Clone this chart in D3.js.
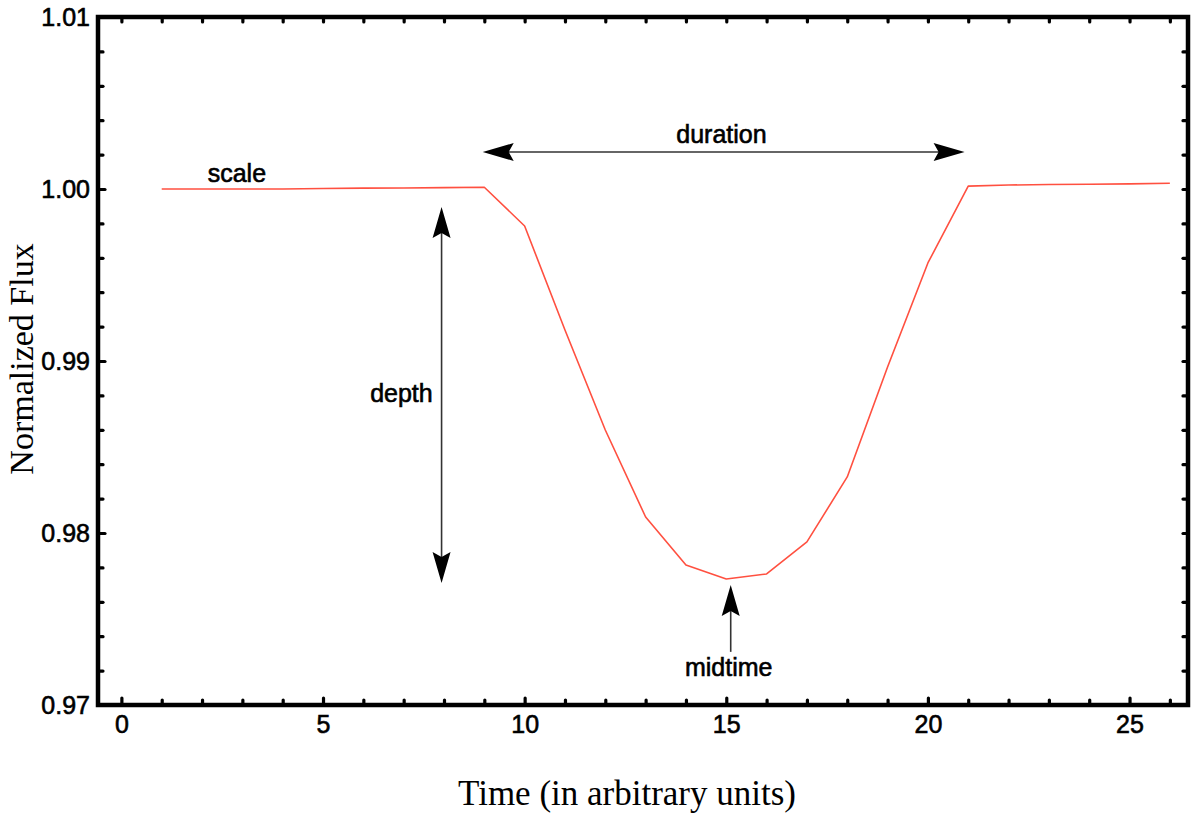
<!DOCTYPE html>
<html><head><meta charset="utf-8">
<script src="https://cdn.jsdelivr.net/npm/d3@7/dist/d3.min.js"></script>
<style>html,body{margin:0;padding:0;background:#fff;} svg{display:block;}</style>
</head><body>
<script>
// ---- data ----
const times = [1,2,3,4,5,6,7,8,9,10,11,12,13,14,15,16,17,18,19,20,21,22,23,24,25,26];
const flux  = [1.00000,1.00000,1.00000,1.00000,1.00003,1.00005,1.00006,1.00008,1.00010,
               0.99785,0.99180,0.98599,0.98093,0.97814,0.97733,0.97762,0.97948,0.98326,
               0.98965,0.99570,1.00017,1.00023,1.00026,1.00028,1.00030,1.00033];
const xTickLabels = ["0","5","10","15","20","25"];
const yTickLabels = ["0.97","0.98","0.99","1.00","1.01"];
const xTitle = "Time (in arbitrary units)";
const yTitle = "Normalized Flux";

// ---- layout ----
const W = 1194, H = 817;
const L = 98, R = 1188, T = 17, B = 705;
const svg = d3.select("body").append("svg").attr("width", W).attr("height", H);

const x = d3.scaleLinear().domain([-0.58, 26.45]).range([L, R]);
const y = d3.scaleLinear().domain([0.97, 1.01]).range([B, T]);

const sans = "'Liberation Sans', Arial, Helvetica, sans-serif";
const serif = "'Liberation Serif', 'Times New Roman', serif";

const xMajor = xTickLabels.map(Number);
const yMajor = yTickLabels.map(Number);
const xMinor = d3.range(0, 27).filter(v => !xMajor.includes(v));
const yMinor = d3.range(0, 21).map(i => +(0.97 + i * 0.002).toFixed(3)).filter(v => !yMajor.some(m => Math.abs(m - v) < 1e-9));

function styleAxis(g) {
  g.select(".domain").remove();
  g.selectAll(".tick line").attr("stroke", "#000").attr("stroke-width", 3.2).attr("stroke-linecap", "round");
  g.selectAll(".tick text").attr("fill", "#000").attr("stroke", "#000").attr("stroke-width", 0.6)
    .style("font-family", sans).style("font-size", "25px");
}

// bottom axis
svg.append("g").attr("transform", `translate(0,${B})`)
  .call(d3.axisBottom(x).tickValues(xMinor).tickSizeInner(-5).tickSizeOuter(0).tickFormat(""))
  .call(styleAxis);
svg.append("g").attr("transform", `translate(0,${B})`)
  .call(d3.axisBottom(x).tickValues(xMajor).tickSizeInner(-7).tickSizeOuter(0).tickPadding(10)
        .tickFormat((d, i) => xTickLabels[i]))
  .call(styleAxis);
// top axis (ticks only)
svg.append("g").attr("transform", `translate(0,${T})`)
  .call(d3.axisTop(x).tickValues(d3.range(0, 27)).tickSizeInner(-5).tickSizeOuter(0).tickFormat(""))
  .call(styleAxis);
// left axis
svg.append("g").attr("transform", `translate(${L},0)`)
  .call(d3.axisLeft(y).tickValues(yMinor).tickSizeInner(-5).tickSizeOuter(0).tickFormat(""))
  .call(styleAxis);
svg.append("g").attr("transform", `translate(${L},0)`)
  .call(d3.axisLeft(y).tickValues(yMajor).tickSizeInner(-7).tickSizeOuter(0).tickPadding(8)
        .tickFormat((d, i) => yTickLabels[i]))
  .call(styleAxis);
// right axis (ticks only)
svg.append("g").attr("transform", `translate(${R},0)`)
  .call(d3.axisRight(y).tickValues(d3.range(0, 21).map(i => 0.97 + i * 0.002)).tickSizeInner(-5).tickSizeOuter(0).tickFormat(""))
  .call(styleAxis);

// frame
svg.append("rect").attr("x", L).attr("y", T).attr("width", R - L).attr("height", B - T)
  .attr("fill", "none").attr("stroke", "#000").attr("stroke-width", 4.5);

// light curve
const line = d3.line().x((d, i) => x(times[i])).y(d => y(d));
svg.append("path").datum(flux).attr("d", line)
  .attr("fill", "none").attr("stroke", "#ff5040").attr("stroke-width", 1.6).attr("stroke-linejoin", "round");

// ---- annotations ----
function arrowHead(tx, ty, angle) {
  const len = 31, hw = 9, notch = 5;
  const ca = Math.cos(angle), sa = Math.sin(angle);
  const p1 = [tx, ty];
  const p2 = [tx - len * ca + hw * sa, ty - len * sa - hw * ca];
  const p3 = [tx - (len - notch) * ca, ty - (len - notch) * sa];
  const p4 = [tx - len * ca - hw * sa, ty - len * sa + hw * ca];
  svg.append("path").attr("d", `M${p1}L${p2}L${p3}L${p4}Z`).attr("fill", "#000");
}
function arrowLine(x1, y1, x2, y2) {
  svg.append("line").attr("x1", x1).attr("y1", y1).attr("x2", x2).attr("y2", y2)
    .attr("stroke", "#333").attr("stroke-width", 1.6);
}
function label(txt, px, py, anchor) {
  svg.append("text").attr("x", px).attr("y", py).attr("text-anchor", anchor)
    .attr("fill", "#000").attr("stroke", "#000").attr("stroke-width", 0.6)
    .style("font-family", sans).style("font-size", "25px").text(txt);
}

// duration
const dY = y(1.00215), dX1 = x(8.96), dX2 = x(20.91);
arrowLine(dX1 + 20, dY, dX2 - 20, dY);
arrowHead(dX1, dY, Math.PI);
arrowHead(dX2, dY, 0);
label("duration", x(14.88), y(1.00267), "middle");

// depth
const pX = x(7.94), pY1 = y(0.99895), pY2 = y(0.97709);
arrowLine(pX, pY1 + 20, pX, pY2 - 20);
arrowHead(pX, pY1, -Math.PI / 2);
arrowHead(pX, pY2, Math.PI / 2);
label("depth", x(7.72), y(0.98762), "end");

// midtime
const mX = x(15.11), mY1 = y(0.97698), mY2 = y(0.97309);
arrowLine(mX, mY1 + 20, mX, mY2);
arrowHead(mX, mY1, -Math.PI / 2);
label("midtime", x(15.06), y(0.97169), "middle");

// scale
label("scale", x(2.14), y(1.0004), "start");

// axis titles
svg.append("text").attr("x", 627).attr("y", 805).attr("text-anchor", "middle")
  .attr("fill", "#000").style("font-family", serif).style("font-size", "35px").text(xTitle);
svg.append("text").attr("transform", "translate(33,359) rotate(-90)").attr("text-anchor", "middle")
  .attr("fill", "#000").style("font-family", serif).style("font-size", "34px").text(yTitle);
</script>
</body></html>
